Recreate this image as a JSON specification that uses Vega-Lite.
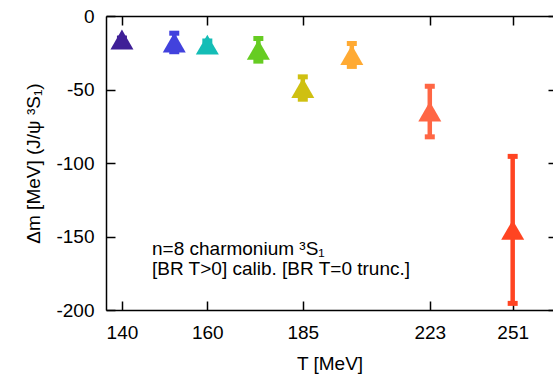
{
  "$schema": "https://vega.github.io/schema/vega-lite/v6.json",
  "autosize": {"type": "none"},
  "padding": {"left": 106, "top": 16, "right": 0, "bottom": 64},
  "width": 447,
  "height": 294,
  "config": {
    "font": "Liberation Sans",
    "view": {"stroke": null},
    "axis": {"grid": false, "labelFont": "Liberation Sans", "titleFont": "Liberation Sans", "labelFontSize": 19, "titleFontSize": 19, "labelColor": "#000", "titleColor": "#000", "titleFontWeight": "normal", "tickColor": "#000", "domainColor": "#000", "tickWidth": 1.5, "domainWidth": 1.5}
  },
  "datasets": {
    "pts": [
      {"T": 140, "m": -16, "lo": -17, "hi": -15},
      {"T": 152, "m": -18, "lo": -24.3, "hi": -11.7},
      {"T": 160, "m": -19.5, "lo": -22, "hi": -17},
      {"T": 173, "m": -23, "lo": -30.7, "hi": -15.3},
      {"T": 185, "m": -49, "lo": -56.6, "hi": -41.4},
      {"T": 199, "m": -26.5, "lo": -34.3, "hi": -18.7},
      {"T": 223, "m": -65, "lo": -82.2, "hi": -47.8},
      {"T": 251, "m": -145.5, "lo": -195.5, "hi": -95.5}
    ],
    "notes": [
      {"T": 146.8, "m": -162.5, "label": "n=8 charmonium ³S₁\n[BR T>0] calib. [BR T=0 trunc.]"}
    ]
  },
  "resolve": {"axis": {"x": "independent", "y": "independent"}},
  "layer": [
    {
      "data": {"name": "pts"},
      "mark": {"type": "rule", "strokeWidth": 4.5},
      "encoding": {
        "x": {"field": "T", "type": "quantitative", "scale": {"type": "pow", "exponent": 0.2, "domain": [136.5, 265.6], "nice": false, "zero": false},
              "axis": {"orient": "bottom", "values": [140, 160, 185, 223, 251], "format": "d", "tickSize": -9, "labelPadding": 22.5, "title": "T [MeV]", "titlePadding": 12, "domain": true}},
        "y": {"field": "lo", "type": "quantitative", "scale": {"domain": [-200, 0], "nice": false, "zero": false},
              "axis": {"orient": "left", "values": [0, -50, -100, -150, -200], "labelExpr": "'' + datum.value", "tickSize": -9, "labelPadding": 21, "title": "Δm [MeV] (J/ψ ³S₁)", "titlePadding": 12, "domain": true}},
        "y2": {"field": "hi"},
        "color": {"field": "T", "type": "nominal", "legend": null,
                  "scale": {"domain": [140, 152, 160, 173, 185, 199, 223, 251], "range": ["#3f1f97", "#4242dd", "#14bdb6", "#66cc22", "#cfc011", "#ffaa33", "#ff6644", "#ff4422"]}}
      }
    },
    {
      "data": {"name": "pts"},
      "mark": {"type": "point", "shape": "M-1,-0.5L1,-0.5L1,0.5L-1,0.5Z", "filled": true, "opacity": 1, "size": 100},
      "encoding": {
        "x": {"field": "T", "type": "quantitative", "axis": null},
        "y": {"field": "lo", "type": "quantitative", "axis": null},
        "color": {"field": "T", "type": "nominal", "legend": null}
      }
    },
    {
      "data": {"name": "pts"},
      "mark": {"type": "point", "shape": "M-1,-0.5L1,-0.5L1,0.5L-1,0.5Z", "filled": true, "opacity": 1, "size": 100},
      "encoding": {
        "x": {"field": "T", "type": "quantitative", "axis": null},
        "y": {"field": "hi", "type": "quantitative", "axis": null},
        "color": {"field": "T", "type": "nominal", "legend": null}
      }
    },
    {
      "data": {"name": "pts"},
      "mark": {"type": "point", "shape": "triangle-up", "filled": true, "opacity": 1, "size": 529},
      "encoding": {
        "x": {"field": "T", "type": "quantitative", "axis": null},
        "y": {"field": "m", "type": "quantitative", "axis": null},
        "color": {"field": "T", "type": "nominal", "legend": null}
      }
    },
    {
      "data": {"name": "notes"},
      "mark": {"type": "text", "align": "left", "baseline": "alphabetic", "fontSize": 19, "font": "Liberation Sans", "color": "#000", "lineBreak": "\n", "lineHeight": 20},
      "encoding": {
        "x": {"field": "T", "type": "quantitative", "axis": null},
        "y": {"field": "m", "type": "quantitative", "axis": null},
        "text": {"field": "label"}
      }
    },
    {
      "data": {"name": "pts"},
      "mark": {"type": "point", "opacity": 0},
      "encoding": {
        "x": {"field": "T", "type": "quantitative",
              "axis": {"orient": "top", "values": [140, 160, 185, 223, 251], "labels": false, "title": null, "tickSize": -9, "domain": true}},
        "y": {"field": "m", "type": "quantitative",
              "axis": {"orient": "right", "values": [0, -50, -100, -150, -200], "labels": false, "title": null, "tickSize": -5, "domain": false}}
      }
    }
  ]
}
